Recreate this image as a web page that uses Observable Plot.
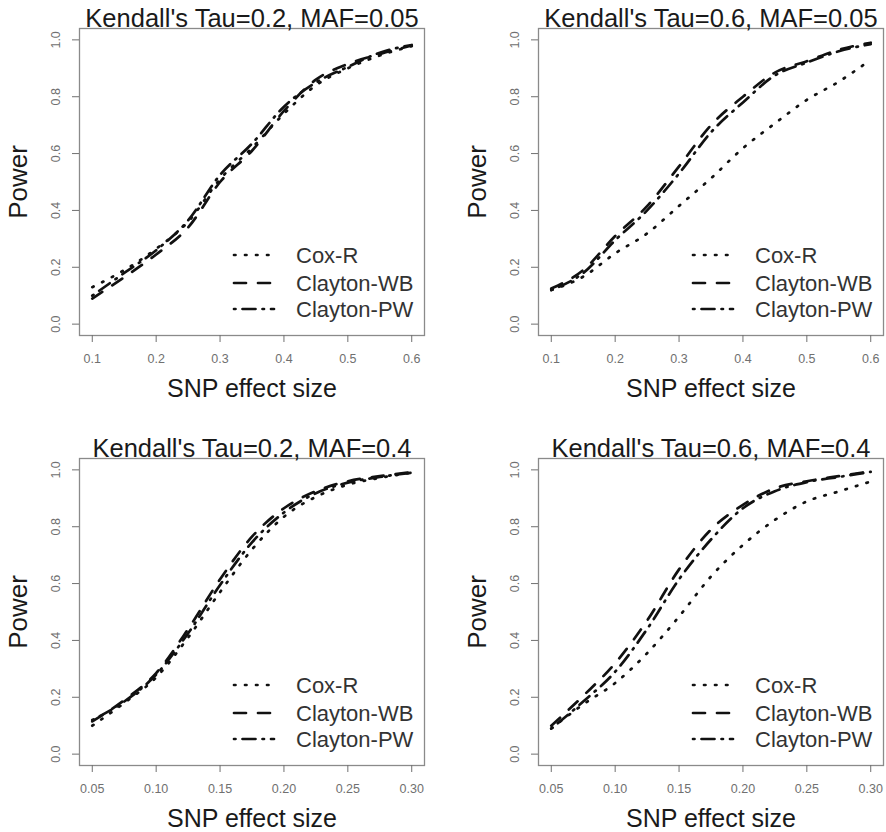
<!DOCTYPE html>
<html>
<head>
<meta charset="utf-8">
<script src="https://cdn.jsdelivr.net/npm/d3@7"></script>
<script src="https://cdn.jsdelivr.net/npm/@observablehq/plot@0.6"></script>
<style>
  html, body { margin: 0; padding: 0; background: #fff; }
  #root { position: relative; width: 886px; height: 832px; overflow: hidden; background: #fff; }
  .panel { position: absolute; }
  svg { font-family: "Liberation Sans", Arial, Helvetica, sans-serif; }
</style>
</head>
<body>
<div id="root"></div>
<script>
// ---------- data ----------
const seriesNames = ["Cox-R", "Clayton-WB", "Clayton-PW"];

const titleTL = "Kendall's Tau=0.2, MAF=0.05";
const titleTR = "Kendall's Tau=0.6, MAF=0.05";
const titleBL = "Kendall's Tau=0.2, MAF=0.4";
const titleBR = "Kendall's Tau=0.6, MAF=0.4";

const xLabel = "SNP effect size";
const yLabel = "Power";

const xTicksTop = [0.1, 0.2, 0.3, 0.4, 0.5, 0.6];
const xTicksBottom = [0.05, 0.10, 0.15, 0.20, 0.25, 0.30];
const yTicks = [0.0, 0.2, 0.4, 0.6, 0.8, 1.0];

const effectTop = [0.10, 0.15, 0.20, 0.25, 0.30, 0.35, 0.40, 0.45, 0.50, 0.55, 0.60];
const effectBottom = [0.050, 0.075, 0.100, 0.125, 0.150, 0.175, 0.200, 0.225, 0.250, 0.275, 0.300];

// Tau=0.2, MAF=0.05
const tlCox = [0.13, 0.19, 0.265, 0.36, 0.51, 0.62, 0.74, 0.84, 0.90, 0.945, 0.978];
const tlWB  = [0.09, 0.165, 0.245, 0.34, 0.50, 0.61, 0.75, 0.86, 0.915, 0.95, 0.98];
const tlPW  = [0.10, 0.18, 0.26, 0.365, 0.525, 0.635, 0.765, 0.85, 0.905, 0.955, 0.982];

// Tau=0.6, MAF=0.05
const trCox = [0.12, 0.167, 0.249, 0.319, 0.416, 0.513, 0.619, 0.706, 0.789, 0.853, 0.93];
const trWB  = [0.125, 0.19, 0.31, 0.415, 0.555, 0.70, 0.80, 0.885, 0.925, 0.965, 0.99];
const trPW  = [0.12, 0.18, 0.295, 0.40, 0.53, 0.675, 0.78, 0.875, 0.92, 0.96, 0.985];

// Tau=0.2, MAF=0.4
const blCox = [0.10, 0.18, 0.27, 0.41, 0.57, 0.72, 0.835, 0.905, 0.948, 0.972, 0.99];
const blWB  = [0.115, 0.19, 0.285, 0.44, 0.615, 0.765, 0.865, 0.925, 0.96, 0.978, 0.992];
const blPW  = [0.12, 0.185, 0.28, 0.425, 0.595, 0.745, 0.85, 0.918, 0.955, 0.975, 0.99];

// Tau=0.6, MAF=0.4
const brCox = [0.09, 0.175, 0.25, 0.355, 0.484, 0.625, 0.736, 0.824, 0.889, 0.924, 0.959];
const brWB  = [0.10, 0.205, 0.32, 0.47, 0.65, 0.79, 0.877, 0.935, 0.96, 0.978, 0.995];
const brPW  = [0.09, 0.185, 0.29, 0.44, 0.615, 0.755, 0.865, 0.925, 0.957, 0.975, 0.993];

// ---------- styles ----------
const dashes = ["1.5,9.5", "12,12", "1.5,7,13,7"];
const INK = "#111";
const AXIS = "#707070";
const FONT = '"Liberation Sans", Arial, Helvetica, sans-serif';

function makePanel({title, xs, series, xTicks, xDomain, fmt, left, top}) {
  const W = 427, H = 402;
  const mL = 79, mR = 3, mT = 28, mB = H - 335;
  const marks = [
    Plot.frame({stroke: "#8a8a8a", strokeWidth: 1.3}),
    Plot.axisX({ticks: xTicks, tickSize: 7, tickPadding: 12, tickFormat: d3.format(fmt),
                fontSize: 12.5, color: AXIS, label: null}),
    Plot.axisY({ticks: yTicks, tickSize: 7, tickFormat: () => "", color: AXIS, label: null}),
    Plot.text(yTicks, {y: d => d, text: d => d3.format(".1f")(d), frameAnchor: "left",
                       textAnchor: "middle", lineAnchor: "middle",
                       rotate: -90, dx: -24, fontSize: 12.5, fill: AXIS}),
    Plot.text([title], {text: d => d, frameAnchor: "top", textAnchor: "middle", lineAnchor: "middle",
                        dy: -10, fontSize: 25.5, fill: "#1a1a1a"}),
    Plot.text([xLabel], {text: d => d, frameAnchor: "bottom", textAnchor: "middle", lineAnchor: "middle",
                         dy: 53, fontSize: 25, fill: "#1a1a1a"}),
    Plot.text([yLabel], {text: d => d, frameAnchor: "left", textAnchor: "middle", lineAnchor: "middle",
                         dx: -61, rotate: -90, fontSize: 26, fill: "#1a1a1a"})
  ];
  series.forEach((vals, i) => {
    marks.push(Plot.line(xs.map((x, j) => ({x, y: vals[j]})), {
      x: "x", y: "y", stroke: INK, strokeWidth: 2.7, strokeDasharray: dashes[i],
      strokeLinecap: "round", curve: "monotone-x"
    }));
  });
  const chart = Plot.plot({
    width: W, height: H,
    marginLeft: mL, marginRight: mR, marginTop: mT, marginBottom: mB,
    x: {domain: xDomain, axis: null},
    y: {domain: [-0.04, 1.04], axis: null},
    style: {fontFamily: FONT, background: "transparent", overflow: "visible"},
    marks
  });
  // legend (inside frame, bottom right)
  const svg = d3.select(chart);
  const g = svg.append("g").attr("transform", `translate(${mL},${mT})`);
  const rows = [227, 255, 281];
  seriesNames.forEach((name, i) => {
    g.append("line")
      .attr("x1", 155).attr("x2", 195).attr("y1", rows[i]).attr("y2", rows[i])
      .attr("stroke", INK).attr("stroke-width", 2.7)
      .attr("stroke-linecap", "round").attr("stroke-dasharray", dashes[i]);
    g.append("text")
      .attr("x", 217).attr("y", rows[i]).attr("dy", "0.35em")
      .attr("text-anchor", "start")
      .attr("font-family", FONT)
      .attr("font-size", 22).attr("fill", "#333")
      .text(name);
  });
  const div = document.createElement("div");
  div.className = "panel";
  div.style.left = left + "px";
  div.style.top = top + "px";
  div.appendChild(chart);
  document.getElementById("root").appendChild(div);
}

makePanel({title: titleTL, xs: effectTop, series: [tlCox, tlWB, tlPW], xTicks: xTicksTop,
           xDomain: [0.08, 0.62], fmt: ".1f", left: 0, top: 0});
makePanel({title: titleTR, xs: effectTop, series: [trCox, trWB, trPW], xTicks: xTicksTop,
           xDomain: [0.08, 0.62], fmt: ".1f", left: 459, top: 0});
makePanel({title: titleBL, xs: effectBottom, series: [blCox, blWB, blPW], xTicks: xTicksBottom,
           xDomain: [0.04, 0.31], fmt: ".2f", left: 0, top: 430});
makePanel({title: titleBR, xs: effectBottom, series: [brCox, brWB, brPW], xTicks: xTicksBottom,
           xDomain: [0.04, 0.31], fmt: ".2f", left: 459, top: 430});
</script>
</body>
</html>
